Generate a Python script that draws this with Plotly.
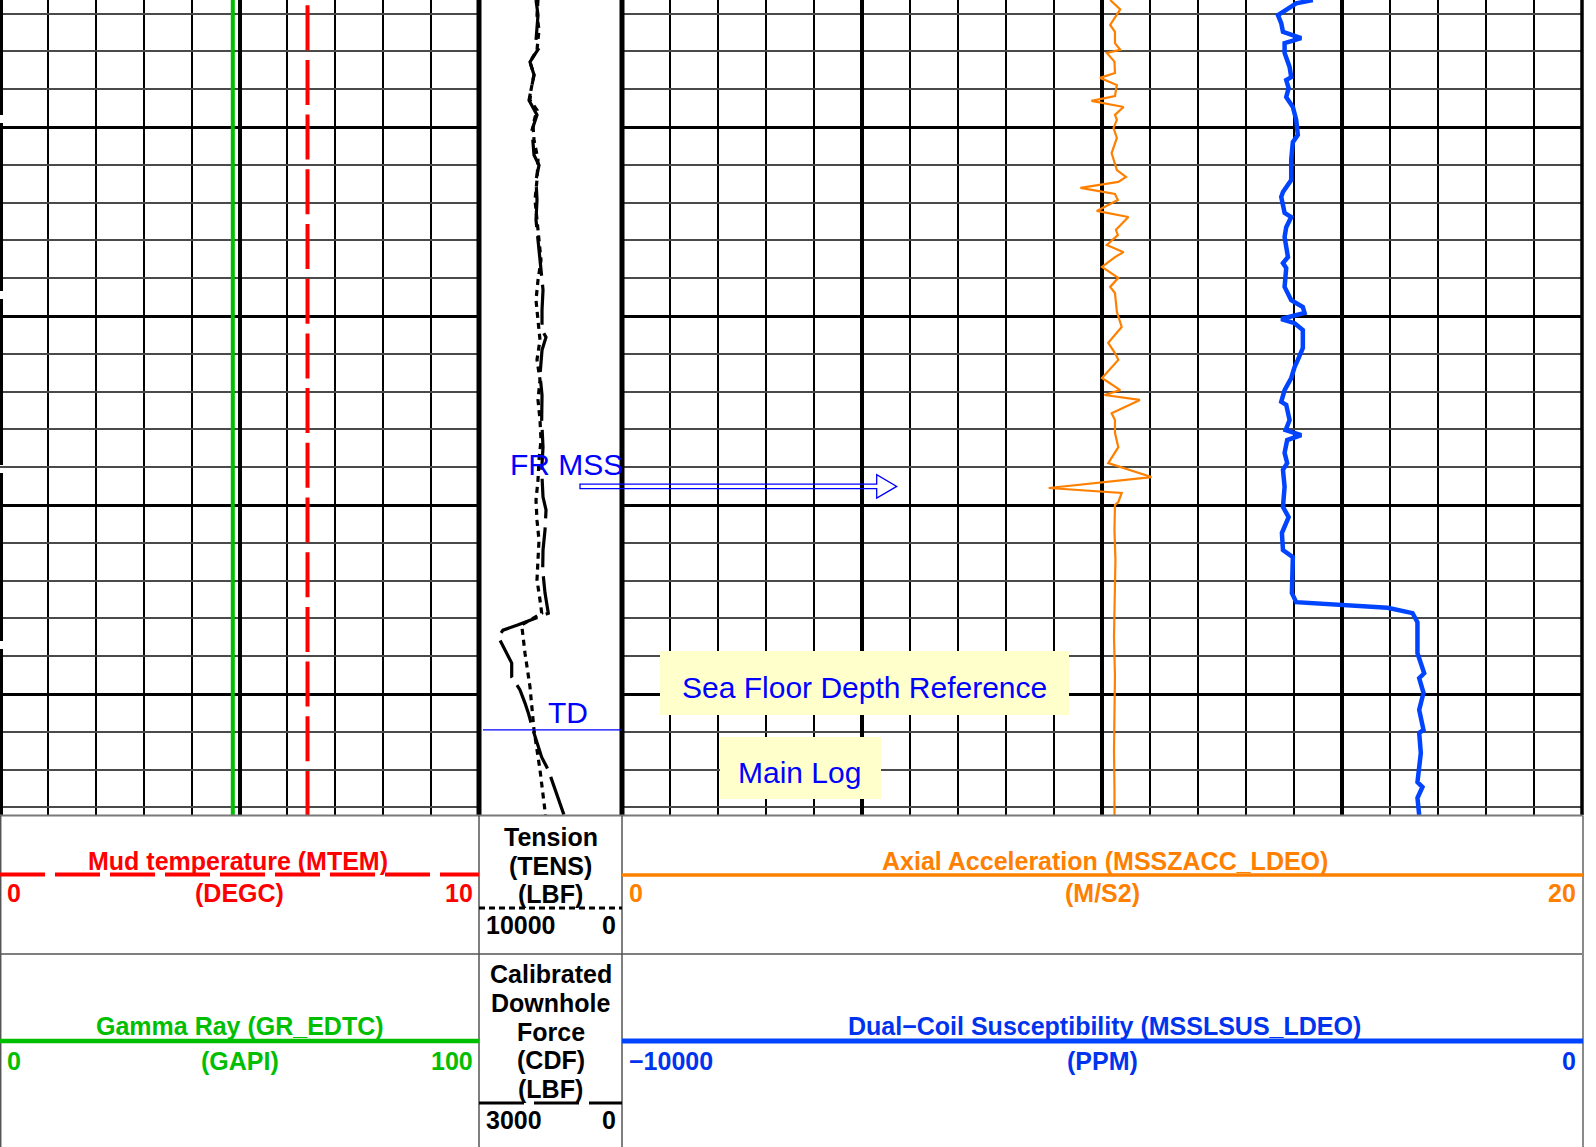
import plotly.graph_objects as go

# ---------------- data ----------------
DEPTH_TOP, DEPTH_BOTTOM = 96.64, 118.20

mtem_depth = [95.33, 118.20]
mtem = [6.42, 6.42]                       # DEGC

gr_depth = [96.64, 118.20]
gr = [48.6, 48.6]                         # GAPI

tens_depth = [96.64, 97.04, 97.43, 97.96, 98.28, 98.62, 99.02, 99.29, 99.55, 99.95,
              100.34, 100.87, 101.40, 101.93, 102.46, 102.99, 103.52, 104.05, 104.58, 105.11,
              105.63, 106.16, 106.69, 107.22, 107.75, 108.28, 108.81, 109.34, 109.87, 110.40,
              110.93, 111.45, 111.98, 112.51, 112.86, 113.17, 113.92, 114.81, 115.95, 117.01, 118.20]
tens = [5874, 5944, 5804, 5944, 6434, 6154, 6364, 6434, 5944, 6224,
        6154, 5874, 5944, 6084, 5944, 5804, 5664, 5874, 6014, 5874,
        5734, 5944, 5734, 5874, 5734, 5664, 5804, 5874, 6014, 5944,
        5804, 5874, 5944, 5734, 5615, 7014, 6783, 6434, 6154, 5734, 5350]   # LBF

cdf_depth = [96.64, 97.04, 97.70, 97.91, 98.28, 98.62, 99.29, 99.68, 100.08, 100.74,
             101.01, 101.40, 101.93, 102.46, 102.99, 103.52, 103.86, 104.31, 104.84, 105.37,
             105.56, 105.90, 106.56, 107.09, 107.75, 108.47, 109.07, 109.79, 110.13, 110.66,
             111.19, 111.72, 112.33, 112.86, 113.17, 113.31, 113.49, 113.92, 114.18, 114.55,
             114.89, 115.24, 115.50, 115.95, 116.30, 116.67, 117.01, 117.62, 118.20]
cdf = [1804, 1762, 1804, 1741, 1930, 1846, 1951, 1783, 1888, 1846,
       1741, 1804, 1783, 1804, 1762, 1720, 1699, 1657, 1678, 1678,
       1594, 1678, 1720, 1678, 1685, 1657, 1685, 1657, 1594, 1615,
       1657, 1664, 1615, 1546, 2176, 2497, 2595, 2419, 2314, 2314,
       2140, 2035, 1966, 1867, 1777, 1685, 1546, 1370, 1217]              # LBF

acc_depth = [96.64, 96.89, 97.30, 97.48, 97.78, 97.96, 98.04, 98.27, 98.57, 98.70,
             98.89, 99.18, 99.31, 99.47, 99.68, 99.81, 100.03, 100.29, 100.69, 101.14,
             101.32, 101.45, 101.61, 101.77, 101.93, 102.22, 102.38, 102.72, 102.86, 103.12,
             103.31, 103.44, 103.70, 103.99, 104.23, 104.39, 104.89, 105.29, 105.71, 105.98,
             106.16, 106.64, 106.96, 107.09, 107.22, 107.57, 107.75, 108.09, 108.47, 108.89,
             109.26, 109.55, 109.68, 109.92, 110.00, 110.66, 111.45, 112.51, 113.50, 114.50,
             115.50, 116.50, 117.50, 118.20]
acc = [10.17, 10.38, 10.17, 10.27, 10.27, 10.38, 10.10, 10.26, 10.27, 9.96,
       10.31, 10.27, 9.78, 10.45, 10.27, 10.31, 10.24, 10.31, 10.20, 10.31,
       10.50, 10.34, 9.55, 10.27, 10.33, 9.89, 10.55, 10.29, 10.33, 10.10,
       10.45, 10.27, 10.00, 10.34, 10.17, 10.27, 10.31, 10.41, 10.13, 10.27,
       10.34, 10.00, 10.38, 10.05, 10.79, 10.20, 10.27, 10.27, 10.34, 10.13,
       11.03, 8.89, 10.41, 10.34, 10.27, 10.26, 10.28, 10.26, 10.25, 10.27,
       10.26, 10.25, 10.26, 10.26]                                          # M/S2

sus_depth = [96.64, 96.73, 97.04, 97.25, 97.48, 97.57, 97.65, 97.78, 98.04, 98.41,
             98.68, 98.76, 98.97, 99.21, 99.47, 99.81, 100.21, 100.40, 100.87, 101.40,
             101.72, 101.85, 102.27, 102.38, 102.65, 102.91, 103.44, 103.60, 103.73, 104.23,
             104.58, 104.76, 104.92, 105.08, 105.19, 105.37, 105.85, 106.16, 106.35, 106.64,
             106.96, 107.27, 107.35, 107.75, 108.02, 108.15, 108.28, 108.62, 108.89, 109.07,
             109.52, 110.05, 110.32, 110.74, 111.19, 111.38, 112.33, 112.57, 112.65, 112.72,
             112.86, 113.10, 113.92, 114.45, 114.58, 114.97, 115.42, 115.95, 116.03, 116.56,
             117.33, 117.46, 117.75, 118.20]
sus = [-2804, -2977, -3167, -3133, -3115, -3012, -2925, -3098, -3098, -3046,
       -3029, -3081, -3056, -3081, -3012, -2977, -2960, -3012, -3029, -3029,
       -3115, -3133, -3098, -3029, -3081, -3098, -3063, -3115, -3081, -3098,
       -3029, -2908, -2890, -3133, -2994, -2908, -2908, -2960, -2994, -3029,
       -3098, -3133, -3081, -3046, -3087, -2925, -3071, -3098, -3071, -3115,
       -3098, -3115, -3056, -3126, -3115, -3012, -3022, -2977, -2406, -2025,
       -1765, -1714, -1714, -1644, -1696, -1651, -1696, -1651, -1696, -1679,
       -1714, -1662, -1714, -1696]                                          # PPM

TD_DEPTH = 115.95

# ---------------- layout helpers ----------------
W, H = 1596, 1147
PLOT_BOTTOM = 815
T1 = (0, 479)
T2 = (479, 622)
T3 = (622, 1582)
FONT = "Liberation Sans, Arial, sans-serif"

RED, GREEN, ORANGE, BLUE = "#FF0000", "#00BE00", "#FF8000", "#0044FF"
BLUE_TXT = "#0033EE"
ANN_BLUE = "#0000FF"


def px(x):
    return x / W


def py(y):
    return 1 - y / H


ydom = [py(PLOT_BOTTOM), 1.0]

fig = go.Figure()

fig.add_trace(go.Scatter(x=mtem, y=mtem_depth, xaxis="x", yaxis="y", mode="lines",
                         line=dict(color=RED, width=4, dash="45px,9.7px")))
fig.add_trace(go.Scatter(x=gr, y=gr_depth, xaxis="x2", yaxis="y", mode="lines",
                         line=dict(color=GREEN, width=4)))
fig.add_trace(go.Scatter(x=cdf, y=cdf_depth, xaxis="x4", yaxis="y3", mode="lines",
                         line=dict(color="black", width=3.2, dash="40px,9px")))
fig.add_trace(go.Scatter(x=tens, y=tens_depth, xaxis="x3", yaxis="y3", mode="lines",
                         line=dict(color="black", width=3.2, dash="6px,5px")))
fig.add_trace(go.Scatter(x=acc, y=acc_depth, xaxis="x5", yaxis="y5", mode="lines",
                         line=dict(color=ORANGE, width=2.2)))
fig.add_trace(go.Scatter(x=sus, y=sus_depth, xaxis="x6", yaxis="y5", mode="lines",
                         line=dict(color=BLUE, width=4.5)))

hidden = dict(showticklabels=False, ticks="", zeroline=False, showline=False)
ygrid = dict(range=[DEPTH_BOTTOM, DEPTH_TOP], domain=ydom, tick0=100, dtick=5,
             showgrid=True, gridcolor="black", gridwidth=3,
             minor=dict(dtick=1, tick0=100, showgrid=True, gridcolor="#4a4a4a", gridwidth=1.5),
             **hidden)

fig.update_layout(
    width=W, height=H, margin=dict(l=0, r=0, t=0, b=0),
    paper_bgcolor="white", plot_bgcolor="white", showlegend=False,
    xaxis=dict(domain=[px(T1[0]), px(T1[1])], range=[0, 10], anchor="y",
               tickmode="array", tickvals=[5], showgrid=True, gridcolor="black", gridwidth=3.5,
               minor=dict(tickmode="array", tickvals=[1, 2, 3, 4, 6, 7, 8, 9],
                          showgrid=True, gridcolor="black", gridwidth=2),
               **hidden),
    xaxis2=dict(overlaying="x", range=[0, 100], visible=False),
    yaxis=dict(anchor="x", **ygrid),
    xaxis3=dict(domain=[px(T2[0]), px(T2[1])], range=[10000, 0], anchor="y3", visible=False),
    xaxis4=dict(overlaying="x3", range=[3000, 0], visible=False),
    yaxis3=dict(anchor="x3", range=[DEPTH_BOTTOM, DEPTH_TOP], domain=ydom, visible=False),
    xaxis5=dict(domain=[px(T3[0]), px(T3[1])], range=[0, 20], anchor="y5",
                tick0=0, dtick=5, showgrid=True, gridcolor="black", gridwidth=3.5,
                minor=dict(dtick=1, tick0=0, showgrid=True, gridcolor="black", gridwidth=2),
                **hidden),
    xaxis6=dict(overlaying="x5", range=[-10000, 0], visible=False),
    yaxis5=dict(anchor="x5", **ygrid),
)

shapes = []


def hline(x0, x1, y, color, width, dash="solid", layer="above"):
    shapes.append(dict(type="line", xref="paper", yref="paper", x0=px(x0), x1=px(x1),
                       y0=py(y), y1=py(y), line=dict(color=color, width=width, dash=dash),
                       layer=layer))


def vline(x, y0, y1, color, width, layer="above"):
    shapes.append(dict(type="line", xref="paper", yref="paper", x0=px(x), x1=px(x),
                       y0=py(y0), y1=py(y1), line=dict(color=color, width=width), layer=layer))


# track boundaries
vline(T2[0], 0, PLOT_BOTTOM, "black", 5)
vline(T2[1], 0, PLOT_BOTTOM, "black", 5)
vline(T3[1], 0, PLOT_BOTTOM, "black", 3.5)
for a, b in [(0, 115), (123, 291), (299, 465), (473, 641), (649, PLOT_BOTTOM)]:
    vline(0, a, b, "black", 6)

# header frame
hline(0, 1583, 815.5, "#7a7a7a", 2)
hline(0, 1583, 954, "#555555", 1.5)
for xv in (0.7, T1[1], T2[1]):
    vline(xv, 815.5, H, "#555555", 1.5)
vline(1583, 815.5, H, "#8a8a8a", 2)

# header curve keys
hline(0, T1[1], 874.5, RED, 4, dash="45px,10px")
hline(T3[0], T3[1] + 1, 875, ORANGE, 3.5)
hline(T2[0], T2[1], 908, "black", 3, dash="6px,4px")
hline(0, T1[1], 1041, GREEN, 4.5)
hline(T3[0], T3[1] + 1, 1041, BLUE, 5)
hline(T2[0], T2[1], 1103, "black", 3, dash="45px,10px")

# TD line
shapes.append(dict(type="line", xref="paper", yref="y3", x0=px(483), x1=px(622),
                   y0=TD_DEPTH, y1=TD_DEPTH, line=dict(color=ANN_BLUE, width=1.2), layer="above"))

# FR MSS hollow arrow
ax0, ax1, axt = 580, 876.7, 896.7
ay, sh, hh = 486.4, 2.2, 11.7
pts = [(ax0, ay - sh), (ax1, ay - sh), (ax1, ay - hh), (axt, ay), (ax1, ay + hh),
       (ax1, ay + sh), (ax0, ay + sh)]
path = "M " + " L ".join(f"{px(x):.6f},{py(y):.6f}" for x, y in pts) + " Z"
shapes.append(dict(type="path", xref="paper", yref="paper", path=path,
                   line=dict(color=ANN_BLUE, width=1.3), fillcolor="rgba(0,0,0,0)", layer="above"))

# yellow boxes
for x0, x1, y0, y1 in [(660, 1069, 651, 715), (720, 881, 737, 799)]:
    shapes.append(dict(type="rect", xref="paper", yref="paper", x0=px(x0), x1=px(x1),
                       y0=py(y1), y1=py(y0), fillcolor="#FFFFCC", line=dict(width=0),
                       layer="above"))

fig.update_layout(shapes=shapes)

annotations = []


def label(text, x, y, color, size=25, xanchor="center", bold=True):
    t = f"<b>{text}</b>" if bold else text
    annotations.append(dict(text=t, x=px(x), y=py(y), xref="paper", yref="paper",
                            xanchor=xanchor, yanchor="middle", showarrow=False,
                            font=dict(family=FONT, size=size, color=color)))


c1 = (T1[0] + T1[1]) / 2
c2 = (T2[0] + T2[1]) / 2
c3 = (T3[0] + T3[1]) / 2

# row 1
label("Mud temperature (MTEM)", c1 - 2, 861, RED)
label("0", 5, 893, RED, xanchor="left")
label("(DEGC)", c1, 893, RED)
label("10", 475, 893, RED, xanchor="right")
label("Tension", c2, 837, "black")
label("(TENS)", c2, 866, "black")
label("(LBF)", c2, 894, "black")
label("10000", 484, 925, "black", xanchor="left")
label("0", 618, 925, "black", xanchor="right")
label("Axial Acceleration (MSSZACC_LDEO)", c3 + 3, 861, ORANGE)
label("0", 627, 893, ORANGE, xanchor="left")
label("(M/S2)", c3, 893, ORANGE)
label("20", 1578, 893, ORANGE, xanchor="right")

# row 2
label("Gamma Ray (GR_EDTC)", c1, 1025.5, GREEN)
label("0", 5, 1061, GREEN, xanchor="left")
label("(GAPI)", c1, 1061, GREEN)
label("100", 475, 1061, GREEN, xanchor="right")
for txt, yv in [("Calibrated", 974), ("Downhole", 1002.5), ("Force", 1031.5),
                ("(CDF)", 1060), ("(LBF)", 1088.5)]:
    label(txt, c2, yv, "black")
label("3000", 484, 1120, "black", xanchor="left")
label("0", 618, 1120, "black", xanchor="right")
label("Dual\u2212Coil Susceptibility (MSSLSUS_LDEO)", c3 + 2, 1025.5, BLUE_TXT)
label("\u221210000", 627, 1061, BLUE_TXT, xanchor="left")
label("(PPM)", c3, 1061, BLUE_TXT)
label("0", 1578, 1061, BLUE_TXT, xanchor="right")

# in-track annotations
label("FR MSS", 566, 464, ANN_BLUE, size=30, bold=False)
label("TD", 567.5, 712.5, ANN_BLUE, size=30, bold=False)
label("Sea Floor Depth Reference", 864, 687, ANN_BLUE, size=30, bold=False)
label("Main Log", 799, 772, ANN_BLUE, size=30, bold=False)

fig.update_layout(annotations=annotations)

fig.write_html(
    "out.html",
    config={"displayModeBar": False},
    post_script="document.body.style.margin='0';document.body.style.padding='0';"
                "document.documentElement.style.overflow='hidden';",
)
